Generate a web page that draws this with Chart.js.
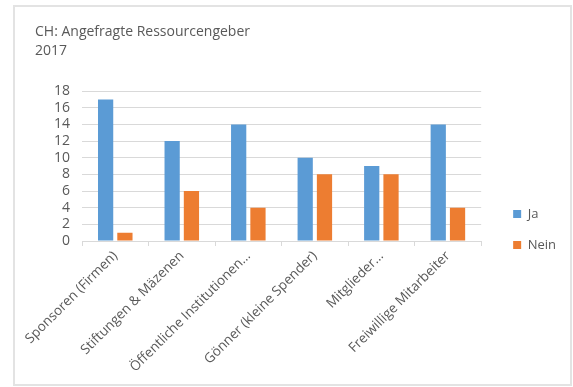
<html>
<head>
    <meta name="viewport" content="width=device-width">
    <script src="https://cdn.jsdelivr.net/npm/chart.js@4/dist/chart.umd.min.js"></script>
    <style>
        *{padding:0; margin:0;}
        body{background:#fff; width:573px; height:387px; position:relative; overflow:hidden;}
        #frame{position:absolute; left:13px; top:5px; width:555px; height:377px; border:2px solid #e3e3e3; background:#fff;}
        #wrap{position:absolute; left:0; top:0; width:573px; height:387px;}
    </style>
</head>
<body onload="loadChart()">
    <div id="frame"></div>
    <div id="wrap"><canvas id="chart"></canvas></div>
    <script>
        var titleLines = ["CH: Angefragte Ressourcengeber", "2017"];
        var categories = [
            "Sponsoren (Firmen)",
            "Stiftungen & Mäzenen",
            "Öffentliche Institutionen...",
            "Gönner (kleine Spender)",
            "Mitglieder...",
            "Freiwillige Mitarbeiter"
        ];
        var jaValues = [17, 12, 14, 10, 9, 14];
        var neinValues = [1, 6, 4, 8, 8, 4];
        var yTicks = [0, 2, 4, 6, 8, 10, 12, 14, 16, 18];

        var textColor = "#595959";
        var font = "'Open Sans', 'Noto Sans', sans-serif";

        // nudge the legend away from the plot and down a bit
        var legendShift = {
            id: "legendShift",
            afterLayout: function(chart) {
                var lg = chart.legend;
                if (!lg) return;
                lg.left += 14; lg.right += 14;
                lg.top += 25; lg.bottom += 25;
            }
        };

        var ctx = document.getElementById("chart").getContext("2d");
        var config = {
            type: "bar",
            data: {
                labels: categories,
                datasets: [
                    {label: "Ja", data: jaValues, backgroundColor: "#5b9bd5"},
                    {label: "Nein", data: neinValues, backgroundColor: "#ed7d31"}
                ]
            },
            options: {
                responsive: true,
                maintainAspectRatio: false,
                animation: false,
                categoryPercentage: 0.58,
                barPercentage: 0.79,
                layout: {padding: {left: 35, right: 21, top: 22, bottom: 0}},
                plugins: {
                    tooltip: {enabled: false},
                    title: {
                        display: true,
                        text: titleLines,
                        align: "start",
                        color: textColor,
                        font: {family: font, size: 14, weight: "normal", lineHeight: 1.36},
                        padding: {top: 0, bottom: 31}
                    },
                    legend: {
                        position: "right",
                        labels: {
                            color: textColor,
                            font: {family: font, size: 13},
                            boxWidth: 8,
                            boxHeight: 8,
                            padding: 18
                        }
                    }
                },
                scales: {
                    x: {
                        afterFit: function(scale) { scale.height = 146; },
                        grid: {display: true, drawOnChartArea: false, color: "#d9d9d9", tickLength: 5, offset: true},
                        border: {color: "#d9d9d9"},
                        ticks: {
                            color: textColor,
                            font: {family: font, size: 13.5},
                            minRotation: 45,
                            maxRotation: 45,
                            autoSkip: false,
                            padding: 2
                        }
                    },
                    y: {
                        min: 0,
                        max: 18,
                        afterFit: function(scale) { scale.width = 47; },
                        afterBuildTicks: function(scale) {
                            scale.ticks = yTicks.map(function(v) { return {value: v}; });
                        },
                        grid: {color: "#d9d9d9", drawTicks: false},
                        border: {display: false},
                        ticks: {
                            color: textColor,
                            font: {family: font, size: 14},
                            autoSkip: false,
                            padding: 12
                        }
                    }
                }
            },
            plugins: [legendShift]
        };
        var chart = null;
        function loadChart() {
            chart = new Chart(ctx, config);
        }
    </script>
</body>
</html>
